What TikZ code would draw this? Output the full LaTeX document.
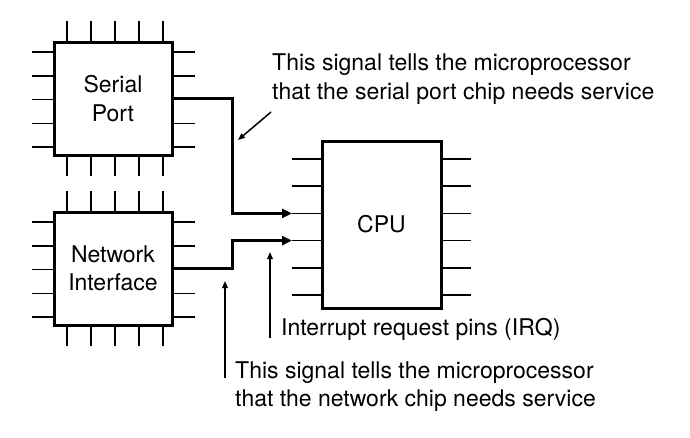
\documentclass[tikz,border=0pt]{standalone}
\usepackage{fontspec}
\setmainfont{TeX Gyre Heros}
\usetikzlibrary{positioning,calc,arrows.meta}

\begin{document}
\begin{tikzpicture}[x=1pt, y=-1pt, font=\fontsize{23}{28.5}\selectfont,
    chip/.style={draw, line width=3pt, align=center, inner sep=0pt, outer sep=0pt},
    pin/.style={line width=1.5pt},
    signal/.style={line width=3pt, -{Triangle[length=10pt,width=9pt]}},
    notearrow/.style={line width=1.5pt, -{Triangle[length=7pt,width=5.5pt]}},
    notetext/.style={align=left, anchor=base west, inner sep=0pt}]
  \useasboundingbox (0,0) rectangle (690,437);

  \node[chip, minimum width=118pt, minimum height=113pt] (serial) at (113,98.5) {Serial\\Port};
  \node[chip, minimum width=118pt, minimum height=113pt, below=57pt of serial] (net) {Network\\Interface};
  \node[chip, minimum width=119pt, minimum height=167pt] (cpu) at (381.5,224.5) {CPU};

  % pins of the two small chips
  \foreach \c in {serial,net} {
    \foreach \i in {0,...,4} {
      \draw[pin] ($(\c.north west)+(13+24*\i,0)$) -- ++(0,-21);
      \draw[pin] ($(\c.south west)+(13+24*\i,0)$) -- ++(0,21);
      \draw[pin] ($(\c.north west)+(0,10+23.8*\i)$) -- ++(-22,0);
      \draw[pin] ($(\c.north east)+(0,10+23.8*\i)$) -- ++(23,0);
    }
  }
  % pins of the cpu
  \foreach \i in {0,...,5} {
    \draw[pin] ($(cpu.north west)+(0,18+27.2*\i)$) -- ++(-30,0);
    \draw[pin] ($(cpu.north east)+(0,18+27.2*\i)$) -- ++(30,0);
  }

  \coordinate (irq1) at ($(cpu.north west)+(-30,72.4)$);
  \coordinate (irq2) at ($(cpu.north west)+(-30,99.6)$);
  \draw[signal] (serial.east) -- ++(60,0) |- (irq1);
  \draw[signal] (net.east) -- ++(60,0) |- (irq2);

  % base = baseline of the last line
  \node[notetext] (sertext) at (272,99) {This signal tells the microprocessor\\that the serial port chip needs service};
  \node[notetext] (irqtext) at (281,335) {Interrupt request pins (IRQ)};
  \node[notetext] (nettext) at (235,406.5) {This signal tells the microprocessor\\that the network chip needs service};

  \coordinate (serfoot) at (271,112);
  \coordinate (sertip) at (238,140);
  \coordinate (irqfoot) at (270,338);
  \coordinate (irqtip) at (270,252);
  \coordinate (netfoot) at (225,378);
  \coordinate (nettip) at (225,281);
  \draw[notearrow] (serfoot) -- (sertip);
  \draw[notearrow] (irqfoot) -- (irqtip);
  \draw[notearrow] (netfoot) -- (nettip);
\end{tikzpicture}
\end{document}
